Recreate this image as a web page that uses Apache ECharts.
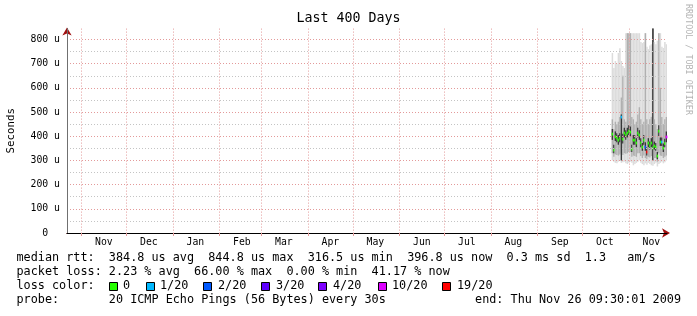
<!DOCTYPE html>
<html>
<head>
<meta charset="utf-8">
<script src="https://cdn.jsdelivr.net/npm/echarts@6/dist/echarts.min.js"></script>
<style>
html,body{margin:0;padding:0;background:#fff;}
#chart{width:697px;height:316px;}
</style>
</head>
<body>
<div id="chart"></div>
<script>
// ---------- data ----------
const rangeStart = '2008-10-22T09:30:01';
const rangeEnd = '2009-11-26T09:30:01';
const monthNames = ['Jan','Feb','Mar','Apr','May','Jun','Jul','Aug','Sep','Oct','Nov','Dec'];
const yTickValues = [0,100,200,300,400,500,600,700,800]; // microseconds, labelled "N u"

const days = [
 '2009-10-20T12:00:00','2009-10-21T12:00:00','2009-10-22T12:00:00','2009-10-23T12:00:00','2009-10-24T12:00:00',
 '2009-10-25T12:00:00','2009-10-26T12:00:00','2009-10-27T12:00:00','2009-10-28T12:00:00','2009-10-29T12:00:00',
 '2009-10-30T12:00:00','2009-10-31T12:00:00','2009-11-01T12:00:00','2009-11-02T12:00:00','2009-11-03T12:00:00',
 '2009-11-04T12:00:00','2009-11-05T12:00:00','2009-11-06T12:00:00','2009-11-07T12:00:00','2009-11-08T12:00:00',
 '2009-11-09T12:00:00','2009-11-10T12:00:00','2009-11-11T12:00:00','2009-11-12T12:00:00','2009-11-13T12:00:00',
 '2009-11-14T12:00:00','2009-11-15T12:00:00','2009-11-16T12:00:00','2009-11-17T12:00:00','2009-11-18T12:00:00',
 '2009-11-19T12:00:00','2009-11-20T12:00:00','2009-11-21T12:00:00','2009-11-22T12:00:00','2009-11-23T12:00:00',
 '2009-11-24T12:00:00','2009-11-25T12:00:00'
];
// round-trip times in microseconds
const medianRtt = [409,343,398,392,384,392,479,388,413,405,413,421,417,347,384,384,372,413,405,372,355,384,355,335,372,360,372,351,360,355,318,421,376,376,351,370,397];
const pingMin  = [300,295,290,288,295,300,290,292,295,288,285,290,295,290,280,285,290,295,300,290,285,280,288,282,290,285,280,278,285,290,275,285,290,295,288,292,300];
const pingP20  = [330,315,325,322,320,325,330,322,330,328,330,335,335,315,320,318,315,330,330,318,310,320,310,305,315,312,318,300,310,310,295,330,320,318,310,315,320];
const pingP40  = [385,330,380,375,365,375,300,370,395,385,395,405,400,335,365,365,355,395,385,355,340,365,340,320,355,345,355,300,345,340,305,400,360,360,335,355,375];
const pingP60  = [430,365,420,412,405,412,490,410,435,425,435,445,440,365,405,405,392,435,425,392,372,405,375,355,392,378,392,845,378,372,335,445,395,395,370,390,420];
const pingP80  = [470,430,460,450,460,480,560,650,470,460,826,826,826,480,470,450,460,490,520,470,450,460,826,470,450,470,480,845,470,450,430,826,600,480,450,470,480];
const pingMax  = [744,682,711,700,744,764,711,690,682,826,826,826,826,826,826,826,826,826,826,790,785,790,826,770,760,775,780,845,790,780,795,826,826,770,765,790,780];
const lossCount = [0,0,0,0,0,0,1,0,0,0,0,0,0,0,0,0,0,0,0,0,0,0,2,19,0,0,0,0,0,0,0,0,0,1,0,0,10];

const lossLabels = ['0','1/20','2/20','3/20','4/20','10/20','19/20'];
const lossThresholds = [0,1,2,3,4,10,19];
const lossColors = ['#26ff00','#00b8ff','#0059ff','#5e00ff','#7e00ff','#dd00ff','#ff0000'];
const bandColors = ['#dcdcdc','#b0b0b0','#383838'];

const statLines = [
  'median rtt:  384.8 us avg  844.8 us max  316.5 us min  396.8 us now  0.3 ms sd  1.3   am/s',
  'packet loss: 2.23 % avg  66.00 % max  0.00 % min  41.17 % now',
  'loss color:',
  'probe:       20 ICMP Echo Pings (56 Bytes) every 30s'
];
const endText = 'end: Thu Nov 26 09:30:01 2009';

// ---------- build ----------
const DAY = 86400000;
const FONT = 'DejaVu Sans Mono';
function lossColor(n){
  let c = lossColors[0];
  for (let k=0;k<lossThresholds.length;k++){ if (n>=lossThresholds[k]) c = lossColors[k]; }
  return c;
}
const smokeData = days.map((d,i)=>[new Date(d).getTime(), pingMin[i], pingP20[i], pingP40[i], medianRtt[i], pingP60[i], pingP80[i], pingMax[i], lossCount[i]]);

function renderSmoke(params, api){
  const cs = params.coordSys;
  const t = api.value(0);
  let x0 = api.coord([t, 0])[0];
  let x1 = api.coord([t + DAY, 0])[0];
  x1 = Math.min(x1, cs.x + cs.width);
  x0 = Math.max(x0, cs.x);
  const w = x1 - x0;
  const band = (lo, hi, col) => {
    const yh = api.coord([t, api.value(hi)])[1];
    const yl = api.coord([t, api.value(lo)])[1];
    return {type:'rect', shape:{x:x0, y:yh, width:w, height:yl-yh}, style:{fill:col}};
  };
  const ym = api.coord([t, api.value(4)])[1];
  return {type:'group', children:[
    band(1,7,bandColors[0]),
    band(2,6,bandColors[1]),
    band(3,5,bandColors[2]),
    {type:'rect', shape:{x:x0, y:ym-1.4, width:w+0.4, height:2.8}, style:{fill:lossColor(api.value(8))}}
  ]};
}

const pink = '#e39a9a';
const grey = '#c4c4c4';

const graphics = [];
const lineY = [258.3, 272.3, 286, 300];
statLines.forEach((s,i)=>{
  graphics.push({type:'text', x:16.5, y:lineY[i], style:{text:s, font:'11.8px "'+FONT+'"', fill:'#000', textVerticalAlign:'middle', textAlign:'left'}});
});
graphics.push({type:'text', x:681, y:lineY[3], style:{text:endText, font:'11.8px "'+FONT+'"', fill:'#000', textVerticalAlign:'middle', textAlign:'right'}});
const boxX = [109, 146, 203, 261, 318, 378, 442];
const lblX = [123, 160, 218, 276, 333, 392, 457];
lossLabels.forEach((l,i)=>{
  graphics.push({type:'rect', shape:{x:boxX[i]+0.5, y:282.5, width:8, height:8}, style:{fill:lossColors[i], stroke:'#000', lineWidth:1}});
  graphics.push({type:'text', x:lblX[i], y:lineY[2], style:{text:l, font:'11.8px "'+FONT+'"', fill:'#000', textVerticalAlign:'middle', textAlign:'left'}});
});
graphics.push({type:'text', x:688, y:4, rotation:-Math.PI/2, style:{text:'RRDTOOL / TOBI OETIKER', font:'8.4px "'+FONT+'"', fill:'#b4b4b4', textVerticalAlign:'middle', textAlign:'left'}});

const chart = echarts.init(document.getElementById('chart'), null, {renderer:'canvas'});
const tMin = new Date(rangeStart).getTime();
const tMax = new Date(rangeEnd).getTime();
const yMax = 845;

chart.setOption({
  animation:false,
  backgroundColor:'#ffffff',
  title:{text:'Last 400 Days', left:'center', top:7, textStyle:{fontFamily:FONT, fontSize:13.3, fontWeight:'normal', color:'#000'}},
  grid:{left:67, right:30, top:233-yMax*0.2419, bottom:83, containLabel:false, outerBoundsMode:'none'},
  xAxis:[{
    type:'time', min:tMin, max:tMax, position:'bottom', z:3,
    splitNumber:13, minInterval:28*DAY, maxInterval:31*DAY,
    axisLine:{show:true, onZero:false, lineStyle:{color:'#000', width:1}},
    axisTick:{show:true, length:3, lineStyle:{color:pink}},
    axisLabel:{
      formatter:(v)=>monthNames[new Date(v).getMonth()],
      fontFamily:FONT, fontSize:9.8, color:'#000', margin:4, align:'center',
      padding:[0,0,0,45], showMinLabel:false, showMaxLabel:false
    },
    splitLine:{show:true, showMinLine:false, showMaxLine:false, lineStyle:{color:pink, type:[1,2], width:1}}
  },{
    type:'time', min:tMin, max:tMax, position:'bottom', z:2.5,
    axisLine:{show:true, onZero:false, symbol:['none','arrow'], symbolSize:[7,8], symbolOffset:[0,3], lineStyle:{color:'#a01010', width:1}},
    axisTick:{show:false}, axisLabel:{show:false}, splitLine:{show:false}
  }],
  yAxis:[{
    type:'value', min:0, max:yMax, interval:50, position:'left', z:3,
    name:'Seconds', nameLocation:'middle', nameRotate:90, nameGap:50,
    nameTextStyle:{fontFamily:FONT, fontSize:10.8, color:'#000'},
    axisLine:{show:true, onZero:false, lineStyle:{color:'#707070', width:1}},
    axisTick:{show:false},
    axisLabel:{
      formatter:(v)=> yTickValues.indexOf(v)>=0 ? (v===0 ? '0  ' : v+' u') : '',
      fontFamily:FONT, fontSize:9.8, color:'#000', margin:7
    },
    splitLine:{show:true, showMinLine:false, showMaxLine:false, lineStyle:{color:[grey,pink], type:[1,2], width:1}}
  },{
    type:'value', min:0, max:yMax, position:'left', z:2.5,
    axisLine:{show:true, onZero:false, symbol:['none','arrow'], symbolSize:[7,8], symbolOffset:[0,1], lineStyle:{color:'#a01010', width:1}},
    axisTick:{show:false}, axisLabel:{show:false}, splitLine:{show:false}
  }],
  series:[{
    type:'custom', xAxisIndex:0, yAxisIndex:0, z:1,
    renderItem:renderSmoke,
    encode:{x:0, y:[1,7]},
    data:smokeData
  }],
  graphic:graphics
});
</script>
</body>
</html>
